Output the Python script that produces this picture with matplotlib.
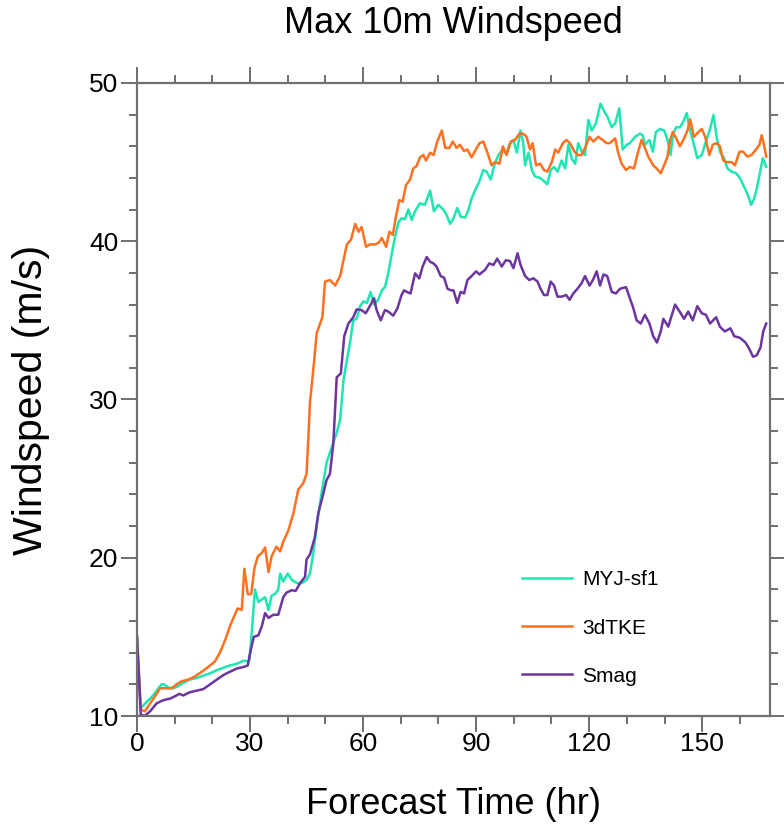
import matplotlib.pyplot as plt
from matplotlib.ticker import MultipleLocator

plt.rcParams['font.family'] = ['Liberation Sans', 'DejaVu Sans']

# forecast hour / max 10 m windspeed (m/s)
myj_t = [0, 1, 2.6, 3.9, 5.2, 6.5, 7.2, 8.3, 9.6, 11, 12.3, 14, 15.8, 17.6, 19.4, 21.2, 23, 24.7,
         26.5, 28.3, 29.2, 29.8, 30.5, 31.3, 32.2, 33.3, 34.0, 34.9, 35.7, 36.6, 37.5, 38.0, 38.8,
         40.0, 41.1, 42.4, 43.7, 45.0, 45.9, 46.8, 47.7, 49.0, 50.3, 51.7, 53.0, 53.9, 54.8, 55.7,
         56.5, 57.4, 58.3, 59.2, 60.1, 61.0, 62.0, 62.9, 64.0, 65.0, 65.8, 66.7, 67.6, 68.5, 69.4,
         70.2, 71.1, 72.0, 72.9, 73.8, 75.1, 76.4, 77.8, 78.8, 80.0, 81.3, 82.2, 83.1, 84.0, 85.0,
         85.9, 87.1, 88.0, 88.8, 89.7, 90.9, 91.9, 92.8, 93.9, 94.8, 95.9, 97.1, 98.0, 98.8, 99.9,
         100.8, 101.8, 102.5, 103.0, 103.9, 104.8, 105.6, 107.0, 108.0, 108.9, 109.8, 110.7, 111.6,
         112.7, 113.6, 114.5, 115.4, 116.3, 117.1, 118.0, 118.9, 119.8, 120.7, 121.8, 123.0, 124.0,
         124.8, 126.0, 126.9, 128.0, 128.9, 130.0, 130.8, 132.2, 133.5, 134.2, 134.8, 136.0, 136.9,
         137.7, 138.8, 139.9, 140.8, 141.6, 142.3, 143.1, 144.1, 145.0, 145.9, 146.6, 147.7, 148.7,
         149.9, 151.0, 152.1, 153.0, 153.9, 154.9, 155.8, 156.7, 157.8, 159.0, 160.0, 161.1, 162.0,
         163.0, 163.8, 164.5, 165.4, 166.1, 167.0]
myj_v = [15.0, 10.5, 10.9, 11.2, 11.6, 12.0, 12.0, 11.8, 11.75, 11.9, 12.1, 12.3, 12.4, 12.55, 12.7,
         12.9, 13.05, 13.2, 13.3, 13.5, 13.45, 13.5, 15.4, 18.0, 17.2, 17.4, 17.5, 16.7, 17.6, 17.7,
         18.0, 19.0, 18.5, 19.0, 18.6, 18.4, 18.4, 18.6, 19.0, 20.3, 22.0, 24.1, 26.0, 27.0, 27.9,
         28.7, 31.2, 32.5, 33.55, 35.0, 35.1, 35.9, 36.2, 36.1, 36.8, 36.0, 36.3, 36.9, 37.1, 38.0,
         39.2, 40.3, 41.2, 41.45, 41.4, 42.0, 41.35, 41.9, 42.4, 42.3, 43.2, 41.9, 42.3, 42.0, 41.65,
         41.1, 41.45, 42.1, 41.55, 41.5, 42.0, 42.7, 43.2, 43.8, 44.5, 44.4, 43.9, 44.8, 45.45, 45.8,
         45.5, 46.1, 46.4, 45.6, 47.0, 46.2, 44.8, 45.6, 44.5, 44.1, 44.0, 43.8, 43.6, 44.5, 44.7,
         44.4, 45.1, 44.6, 46.1, 45.2, 44.9, 46.2, 45.7, 45.45, 47.66, 47.0, 47.45, 48.7, 48.2, 47.9,
         47.2, 47.45, 48.4, 45.8, 46.1, 46.2, 46.6, 46.8, 46.7, 46.1, 46.4, 45.66, 46.9, 47.1, 47.0,
         46.4, 45.45, 46.8, 47.2, 47.2, 47.56, 48.1, 47.2, 46.2, 45.25, 45.45, 46.3, 47.1, 47.98,
         46.5, 45.56, 45.25, 44.6, 44.4, 44.3, 44.0, 43.45, 43.0, 42.3, 42.7, 43.35, 44.4, 45.25,
         44.7]

tke_t = [0, 1, 2.1, 3.5, 5.2, 6.1, 7.4, 9.2, 10.5, 11.9, 13.6, 15.4, 17.2, 18.9, 20.7, 22.0, 23.4,
         24.7, 25.8, 26.7, 27.8, 28.5, 29.4, 30.3, 31.2, 32.1, 33.1, 34.0, 34.9, 35.7, 37.0, 38.0,
         38.8, 40.2, 41.5, 42.8, 44.1, 45.0, 45.5, 45.9, 46.8, 47.7, 48.6, 49.2, 49.9, 51.2, 52.6,
         53.9, 54.8, 55.7, 56.8, 57.9, 58.8, 59.6, 60.8, 61.8, 63.2, 64.1, 65.0, 66.1, 67.0, 67.9,
         68.7, 69.6, 70.5, 71.4, 72.5, 73.3, 74.2, 75.1, 76.0, 76.7, 77.8, 78.7, 79.7, 80.9, 81.8,
         82.9, 83.8, 84.8, 85.7, 86.8, 87.7, 88.8, 89.7, 90.9, 91.9, 93.0, 94.1, 95.0, 96.2, 97.1,
         98.1, 99.2, 100.3, 101.5, 102.5, 103.4, 104.3, 105.0, 105.9, 107.0, 108.0, 108.9, 110.1,
         111.0, 111.8, 113.0, 114.0, 114.9, 116.0, 116.9, 118.0, 118.9, 120.1, 121.1, 122.4, 123.6,
         124.6, 125.5, 126.9, 127.7, 128.6, 129.8, 130.8, 131.9, 133.0, 133.9, 134.8, 135.7, 137.0,
         137.9, 139.0, 139.9, 140.8, 141.5, 142.2, 143.1, 144.1, 145.2, 146.1, 146.8, 147.8, 149.0,
         149.9, 150.8, 151.9, 152.8, 153.8, 154.7, 155.6, 156.5, 157.8, 158.7, 159.9, 160.9, 162.0,
         163.1, 164.3, 165.2, 165.8, 166.4, 167.0]
tke_v = [15.0, 10.4, 10.3, 10.8, 11.4, 11.75, 11.75, 11.75, 12.0, 12.2, 12.3, 12.5, 12.8, 13.1,
         13.45, 14.0, 14.8, 15.7, 16.3, 16.8, 16.7, 19.3, 17.7, 17.7, 19.4, 20.1, 20.3, 20.65, 19.1,
         20.07, 20.7, 20.4, 21.0, 21.75, 22.8, 24.3, 24.7, 25.3, 27.65, 29.8, 31.9, 34.2, 34.8, 35.2,
         37.45, 37.55, 37.2, 37.8, 38.8, 39.8, 40.1, 41.1, 40.6, 40.9, 39.65, 39.8, 39.8, 39.9, 40.2,
         39.65, 40.6, 40.4, 41.55, 42.6, 42.5, 43.55, 43.9, 44.6, 44.75, 45.3, 45.45, 45.1, 45.6,
         45.45, 46.3, 47.0, 45.9, 45.9, 46.3, 45.9, 46.1, 45.7, 45.8, 45.3, 45.7, 46.2, 46.3, 45.6,
         44.8, 45.0, 44.9, 46.0, 45.45, 46.3, 46.4, 46.8, 46.8, 46.6, 45.8, 46.2, 44.8, 44.9, 44.5,
         44.4, 45.0, 45.8, 45.6, 46.2, 46.4, 46.2, 45.7, 45.45, 45.45, 45.9, 46.6, 46.3, 46.6, 46.4,
         46.2, 46.2, 46.5, 45.6, 44.9, 44.5, 44.7, 44.6, 45.66, 46.4, 45.9, 45.35, 44.8, 44.6, 44.3,
         44.8, 45.35, 46.4, 46.9, 46.5, 46.0, 46.5, 47.0, 47.7, 46.6, 46.9, 47.1, 46.6, 45.45, 46.1,
         46.2, 46.0, 45.1, 45.0, 45.0, 44.8, 45.66, 45.66, 45.35, 45.45, 45.8, 46.1, 46.7, 46.1,
         45.35]

smag_t = [0, 1, 2, 3.5, 5.2, 7, 8.8, 10.5, 11.2, 12.3, 14, 15.8, 17.6, 19.4, 21.2, 23, 24.7, 26.5,
          28.3, 29.4, 30.0, 31.0, 32.2, 33.1, 34.0, 34.9, 36.2, 37.5, 38.8, 39.7, 41.1, 42.1, 43.3,
          44.6, 45.0, 45.9, 47.2, 48.1, 49.5, 50.3, 51.2, 52.1, 53.0, 54.1, 55.0, 56.1, 57.4, 58.3,
          59.6, 60.7, 61.8, 62.9, 63.6, 64.7, 65.8, 66.7, 68.0, 69.1, 70.2, 70.9, 71.6, 72.6, 73.8,
          74.9, 75.8, 76.9, 77.8, 78.7, 79.5, 80.6, 81.5, 82.4, 83.3, 84.0, 85.0, 85.9, 86.8, 87.7,
          88.8, 90.0, 90.9, 92.4, 93.5, 94.6, 95.6, 96.8, 97.9, 99.0, 99.9, 101.0, 101.8, 103.0,
          104.1, 105.2, 106.3, 107.1, 108.0, 108.9, 109.8, 110.7, 111.6, 112.7, 113.9, 114.8, 115.8,
          116.9, 118.0, 118.9, 120.1, 121.0, 122.0, 122.9, 123.8, 124.8, 126.0, 127.1, 128.2, 129.8,
          130.8, 131.7, 132.6, 133.7, 134.8, 136.0, 137.0, 138.0, 139.0, 139.7, 141.0, 142.8, 143.9,
          145.2, 146.3, 147.5, 148.7, 149.9, 151.0, 152.1, 153.7, 154.7, 156.0, 157.5, 158.5, 160.0,
          161.5, 162.5, 163.5, 164.5, 165.5, 166.2, 167.0]
smag_v = [15.0, 10.1, 10.0, 10.3, 10.8, 11.0, 11.1, 11.3, 11.4, 11.3, 11.5, 11.6, 11.7, 12.0, 12.3,
          12.6, 12.8, 13.0, 13.1, 13.2, 13.95, 15.0, 15.1, 15.65, 16.5, 16.2, 16.4, 16.4, 17.5, 17.8,
          17.95, 17.9, 18.4, 18.8, 19.9, 20.2, 21.3, 22.8, 24.1, 24.9, 25.3, 27.2, 31.4, 31.65, 34.0,
          34.8, 35.2, 35.7, 35.65, 35.45, 35.9, 36.4, 35.65, 35.0, 35.65, 35.55, 35.3, 35.75, 36.6,
          36.9, 36.8, 36.7, 37.97, 37.65, 38.4, 39.0, 38.7, 38.6, 38.4, 37.8, 37.7, 37.0, 36.9, 36.9,
          36.1, 36.8, 36.7, 37.55, 37.8, 38.1, 37.9, 38.2, 38.6, 38.5, 38.9, 38.4, 38.8, 38.75, 38.3,
          39.24, 38.5, 37.8, 37.55, 37.66, 37.45, 37.0, 36.6, 36.6, 37.45, 37.2, 36.5, 36.5, 36.6,
          36.3, 36.7, 37.0, 37.35, 37.8, 37.2, 37.55, 38.1, 37.2, 37.9, 37.8, 36.8, 36.7, 37.0, 37.1,
          36.4, 35.8, 35.0, 34.8, 35.35, 34.8, 34.0, 33.6, 34.3, 35.1, 34.6, 36.0, 35.6, 35.1, 35.56,
          35.0, 35.9, 35.45, 35.35, 34.8, 35.2, 34.6, 34.3, 34.5, 34.0, 33.9, 33.6, 33.2, 32.7, 32.8,
          33.3, 34.3, 34.8]

fig = plt.figure(figsize=(7.84, 8.30), dpi=100)
ax = fig.add_axes([137 / 784, 1 - 716 / 830, 633 / 784, 633 / 830])

ax.plot(myj_t, myj_v, color='#1ee6b2', lw=1.8, label='MYJ-sf1')
ax.plot(tke_t, tke_v, color='#ff7020', lw=1.8, label='3dTKE')
ax.plot(smag_t, smag_v, color='#6c35a0', lw=1.8, label='Smag')

ax.set_xlim(0, 168)
ax.set_ylim(10, 50)
ax.xaxis.set_major_locator(MultipleLocator(30))
ax.xaxis.set_minor_locator(MultipleLocator(10))
ax.yaxis.set_major_locator(MultipleLocator(10))
ax.yaxis.set_minor_locator(MultipleLocator(2))

gray = '#707070'
for s in ax.spines.values():
    s.set_color(gray)
    s.set_linewidth(1.6)
ax.tick_params(which='both', direction='out', top=True, right=True, color=gray, width=1.4)
ax.tick_params(which='major', length=11.5, labelsize=19, pad=2)
ax.tick_params(axis='x', which='major', pad=0)
ax.tick_params(which='minor', length=5.5)

ax.set_title('Max 10m Windspeed', fontsize=26, pad=36)
ax.set_xlabel('Forecast Time (hr)', fontsize=26, labelpad=22)
ax.set_ylabel('Windspeed (m/s)', fontsize=29.5, labelpad=28)

ax.legend(loc='center left', bbox_to_anchor=((522 - 137) / 633, (716 - 628) / 633),
          frameon=False, fontsize=15, handlelength=2.4, handletextpad=0.5,
          labelspacing=1.4, borderpad=0, borderaxespad=0)

fig.savefig('out.png', dpi=100)
